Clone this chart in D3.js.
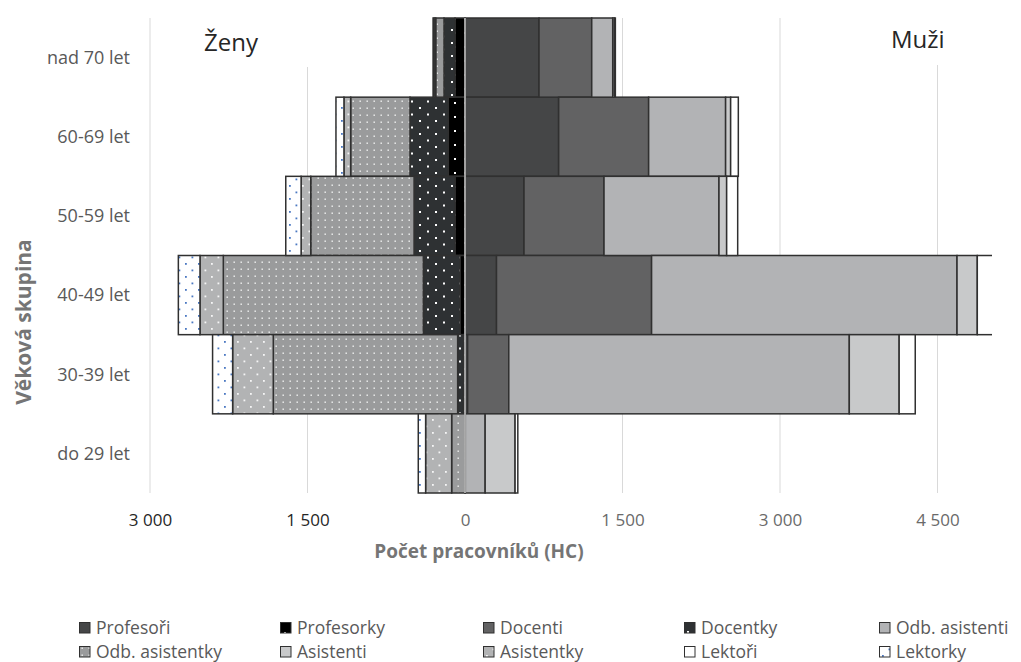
<!DOCTYPE html>
<html lang="cs">
<head>
<meta charset="utf-8">
<script src="https://cdn.jsdelivr.net/npm/d3@7/dist/d3.min.js"></script>
<style>
  html, body { margin: 0; padding: 0; background: #fff; }
  svg { display: block; font-family: "Open Sans", "Noto Sans", sans-serif; }
</style>
</head>
<body>
<svg id="chart" width="1021" height="662"></svg>
<script>
// Age groups, top to bottom
const categories = ["nad 70 let", "60-69 let", "50-59 let", "40-49 let", "30-39 let", "do 29 let"];

// Men (right side), headcount per age group
const profesori    = [705, 892, 562, 300, 25, 0];
const docenti      = [502, 857, 762, 1477, 392, 3];
const odbAsistenti = [200, 733, 1095, 2909, 3243, 189];
const asistenti    = [15, 48, 73, 193, 475, 285];
const lektori      = [10, 73, 105, 180, 153, 26];

// Women (left side), headcount per age group
const profesorky    = [95, 159, 95, 48, 15, 0];
const docentky      = [105, 365, 390, 349, 55, 0];
const odbAsistentky = [79, 565, 984, 1905, 1756, 127];
const asistentky    = [15, 64, 92, 222, 387, 248];
const lektorky      = [10, 76, 146, 206, 191, 70];

const tickValues = [-3000, -1500, 0, 1500, 3000, 4500];

const menKeys = ["Profesoři", "Docenti", "Odb. asistenti", "Asistenti", "Lektoři"];
const womenKeys = ["Profesorky", "Docentky", "Odb. asistentky", "Asistentky", "Lektorky"];
const legendOrder = ["Profesoři", "Profesorky", "Docenti", "Docentky", "Odb. asistenti",
                     "Odb. asistentky", "Asistenti", "Asistentky", "Lektoři", "Lektorky"];

const rows = categories.map((c, i) => ({
  cat: c,
  "Profesoři": profesori[i], "Docenti": docenti[i], "Odb. asistenti": odbAsistenti[i],
  "Asistenti": asistenti[i], "Lektoři": lektori[i],
  "Profesorky": profesorky[i], "Docentky": docentky[i], "Odb. asistentky": odbAsistentky[i],
  "Asistentky": asistentky[i], "Lektorky": lektorky[i]
}));

const svg = d3.select("#chart");
const defs = svg.append("defs");

// Dotted fills for the women's series
function dotPattern(id, bg, dot, w, h, dots, size) {
  const p = defs.append("pattern").attr("id", id)
    .attr("patternUnits", "userSpaceOnUse").attr("width", w).attr("height", h);
  p.append("rect").attr("width", w).attr("height", h).attr("fill", bg);
  dots.forEach(([dx, dy]) => p.append("rect").attr("x", dx).attr("y", dy)
    .attr("width", size).attr("height", size).attr("fill", dot));
  return `url(#${id})`;
}

const fills = {
  "Profesoři": "#454647",
  "Docenti": "#626263",
  "Odb. asistenti": "#b2b3b5",
  "Asistenti": "#c8c9ca",
  "Lektoři": "#ffffff",
  "Profesorky": dotPattern("pProf", "#000000", "#ffffff", 10, 14, [[4, 4]], 2),
  "Docentky": dotPattern("pDoc", "#2e3133", "#ffffff", 16, 13, [[3, 3], [11, 9.5]], 2),
  "Odb. asistentky": dotPattern("pOdb", "#9a9b9c", "#f4f4f4", 7, 7, [[2.5, 2.5]], 1.4),
  "Asistentky": dotPattern("pAs", "#b2b3b4", "#f6f6f6", 13, 13, [[3, 3], [9.5, 9.5]], 1.8),
  "Lektorky": dotPattern("pLek", "#ffffff", "#4a78c2", 13, 13, [[3, 3], [9.5, 9.5]], 1.8)
};

const x = d3.scaleLinear().domain([-3000, 5000]).range([150, 990]);
const y = d3.scaleBand().domain(categories).range([18, 493]).padding(0);
const [plotTop, plotBottom] = y.range();

defs.append("clipPath").attr("id", "plotClip")
  .append("rect").attr("x", 150).attr("y", plotTop - 2).attr("width", 842).attr("height", plotBottom - plotTop + 4);

// Vertical gridlines
svg.append("g").selectAll("line")
  .data(tickValues.filter(d => d !== 0))
  .join("line")
  .attr("x1", d => x(d)).attr("x2", d => x(d))
  .attr("y1", plotTop).attr("y2", plotBottom)
  .attr("stroke", "#d9d9d9").attr("stroke-width", 1);

// Side titles sit on white boxes over the gridlines
svg.append("rect").attr("x", 185).attr("y", plotTop).attr("width", 140).attr("height", 49).attr("fill", "#fff");
svg.append("rect").attr("x", 872).attr("y", plotTop).attr("width", 110).attr("height", 47).attr("fill", "#fff");
svg.append("text").attr("x", 204).attr("y", 51).attr("font-size", 24).attr("fill", "#262626").text("Ženy");
svg.append("text").attr("x", 891).attr("y", 48).attr("font-size", 24).attr("fill", "#262626").text("Muži");

const bars = svg.append("g").attr("clip-path", "url(#plotClip)");

const menStack = d3.stack().keys(menKeys)(rows);
const womenStack = d3.stack().keys(womenKeys)(rows);

bars.selectAll("g.men").data(menStack).join("g").attr("class", "men")
  .attr("fill", s => fills[s.key])
  .selectAll("rect").data(s => s).join("rect")
  .attr("x", d => x(d[0])).attr("width", d => x(d[1]) - x(d[0]))
  .attr("y", d => y(d.data.cat)).attr("height", y.bandwidth())
  .attr("stroke", "#303030").attr("stroke-width", 1.5);

bars.selectAll("g.women").data(womenStack).join("g").attr("class", "women")
  .attr("fill", s => fills[s.key])
  .selectAll("rect").data(s => s).join("rect")
  .attr("x", d => x(-d[1])).attr("width", d => x(-d[0]) - x(-d[1]))
  .attr("y", d => y(d.data.cat)).attr("height", y.bandwidth())
  .attr("stroke", "#303030").attr("stroke-width", 1.5);

// Category axis line at zero, drawn over the bars
svg.append("line").attr("x1", x(0)).attr("x2", x(0)).attr("y1", plotTop).attr("y2", plotBottom)
  .attr("stroke", "#c9c9c9").attr("stroke-width", 1.5);

// Category labels
svg.append("g").selectAll("text").data(categories).join("text")
  .attr("x", 130).attr("y", d => y(d) + y.bandwidth() / 2)
  .attr("dy", "0.35em").attr("text-anchor", "end")
  .attr("font-size", 18).attr("fill", "#595959").text(d => d);

// Value axis
const cz = d3.formatLocale({ decimal: ",", thousands: "\u00a0", grouping: [3], currency: ["", ""] });
const fmt = cz.format(",");
const xAxis = svg.append("g").attr("transform", `translate(0,${plotBottom})`)
  .call(d3.axisBottom(x).tickValues(tickValues).tickSize(0).tickPadding(0).tickFormat(d => fmt(Math.abs(d))));
xAxis.select(".domain").remove();
xAxis.selectAll("text").attr("dy", null).attr("y", 33)
  .attr("font-size", 17).attr("font-family", "Open Sans, sans-serif")
  .attr("fill", d => d < 0 ? "#262626" : "#6a6a6a");

// Axis titles
svg.append("text").attr("x", 479).attr("y", 558).attr("text-anchor", "middle")
  .attr("font-size", 19).attr("font-weight", "bold").attr("fill", "#757575")
  .text("Počet pracovníků (HC)");
svg.append("text").attr("transform", "translate(31,322) rotate(-90)").attr("text-anchor", "middle")
  .attr("font-size", 21).attr("font-weight", "bold").attr("fill", "#757575")
  .text("Věková skupina");

// Legend: five columns, two rows
const colX = [79, 280, 483, 684, 879];
const rowY = [628, 652];
const legend = svg.append("g").selectAll("g").data(legendOrder).join("g")
  .attr("transform", (d, i) => `translate(${colX[i % 5]},${rowY[Math.floor(i / 5)]})`);
legend.append("rect").attr("x", 0.5).attr("y", -5.5).attr("width", 10.5).attr("height", 10.5)
  .attr("fill", d => fills[d]).attr("stroke", "#303030").attr("stroke-width", 1);
legend.append("text").attr("x", 17).attr("y", 0).attr("dy", "0.35em")
  .attr("font-size", 17.5).attr("fill", "#595959").text(d => d);
</script>
</body>
</html>
